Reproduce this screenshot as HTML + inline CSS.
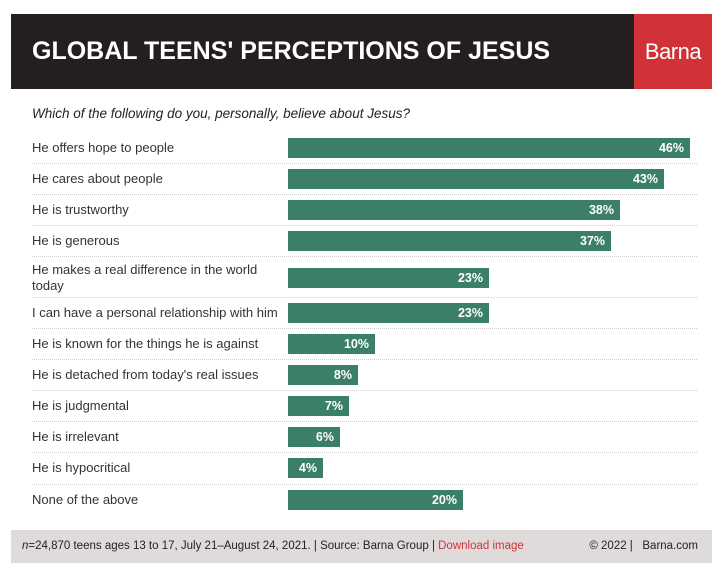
<!DOCTYPE html>
<html><head><meta charset="utf-8"><style>
body{margin:0;width:723px;height:573px;background:#fff;font-family:"Liberation Sans",sans-serif;position:relative;overflow:hidden}
.a{position:absolute}
.hd{left:11px;top:14px;width:623px;height:75px;background:#231f20}
.rd{left:634px;top:14px;width:78px;height:75px;background:#d03238;color:#fff;font-size:22px;line-height:75px;text-align:center;letter-spacing:-0.5px}
.tt{left:32px;top:14px;line-height:75px;color:#fff;font-weight:bold;font-size:25px;letter-spacing:0px}
.sub{left:32px;top:106px;font-style:italic;font-size:13.5px;color:#222}
.lb{left:32px;font-size:13px;color:#333;line-height:16px}
.bar{left:288px;height:20px;background:#3b7f66;color:#fff;font-weight:bold;font-size:12.5px;line-height:20px;text-align:right;box-sizing:border-box;padding-right:6px}
.sep{left:32px;width:665px;border-top:1px dotted #ccc;height:0}
.ft{left:11px;top:530px;width:701px;height:33px;background:#e0dbdb;font-size:11.5px;line-height:33px;color:#222}
</style></head><body>
<div class="a hd"></div><div class="a tt">GLOBAL TEENS' PERCEPTIONS OF JESUS</div>
<div class="a rd">Barna</div>
<div class="a sub">Which of the following do you, personally, believe about Jesus?</div>

<div class="a lb" style="top:140px">He offers hope to people</div><div class="a bar" style="top:138px;width:402px">46%</div><div class="a sep" style="top:163px"></div>
<div class="a lb" style="top:171px">He cares about people</div><div class="a bar" style="top:169px;width:376px">43%</div><div class="a sep" style="top:194px"></div>
<div class="a lb" style="top:202px">He is trustworthy</div><div class="a bar" style="top:200px;width:332px">38%</div><div class="a sep" style="top:225px"></div>
<div class="a lb" style="top:233px">He is generous</div><div class="a bar" style="top:231px;width:323px">37%</div><div class="a sep" style="top:256px"></div>
<div class="a lb" style="top:262px">He makes a real difference in the world<br>today</div><div class="a bar" style="top:268px;width:201px">23%</div><div class="a sep" style="top:297px"></div>
<div class="a lb" style="top:305px">I can have a personal relationship with him</div><div class="a bar" style="top:303px;width:201px">23%</div><div class="a sep" style="top:328px"></div>
<div class="a lb" style="top:336px">He is known for the things he is against</div><div class="a bar" style="top:334px;width:87px">10%</div><div class="a sep" style="top:359px"></div>
<div class="a lb" style="top:367px">He is detached from today's real issues</div><div class="a bar" style="top:365px;width:70px">8%</div><div class="a sep" style="top:390px"></div>
<div class="a lb" style="top:398px">He is judgmental</div><div class="a bar" style="top:396px;width:61px">7%</div><div class="a sep" style="top:421px"></div>
<div class="a lb" style="top:429px">He is irrelevant</div><div class="a bar" style="top:427px;width:52px">6%</div><div class="a sep" style="top:452px"></div>
<div class="a lb" style="top:460px">He is hypocritical</div><div class="a bar" style="top:458px;width:35px">4%</div><div class="a sep" style="top:484px"></div>
<div class="a lb" style="top:492px">None of the above</div><div class="a bar" style="top:490px;width:175px">20%</div>

<div class="a ft"><span style="position:absolute;left:11px"><i>n</i>=24,870 teens ages 13 to 17, July 21–August 24, 2021. | Source: Barna Group | <span style="color:#d03238">Download image</span></span><span style="position:absolute;right:14px">© 2022 | &nbsp; Barna.com</span></div>
</body></html>
